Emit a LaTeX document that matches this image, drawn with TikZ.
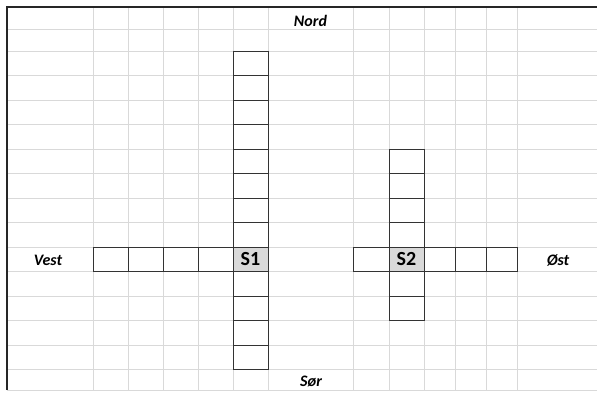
\documentclass[tikz,border=0pt]{standalone}
\usepackage{fontspec}
\setmainfont{Carlito}
\usetikzlibrary{backgrounds}

\definecolor{gridgray}{HTML}{D9D9D9}
\definecolor{cellgray}{HTML}{D9D9D9}
\definecolor{boxline}{HTML}{333333}

\tikzset{
  gridline/.style={gridgray, line width=0.8pt},
  box/.style={draw=boxline, line width=0.9pt},
  cell/.style={box, fill=cellgray, minimum width=35pt, minimum height=24.5pt, inner sep=0pt,
    font=\fontsize{20}{24}\selectfont\bfseries},
  compass/.style={anchor=base, font=\fontsize{16}{18}\selectfont\bfseries\itshape}
}

\begin{document}
\begin{tikzpicture}[x=1pt,y=-1pt]
\useasboundingbox (0,0) rectangle (597,392);

% sheet grid
\foreach \x in {93,128,163,198,233,268,353,389,424,455,486,517}
\draw[gridline] (\x,7) -- (\x,390);
\foreach \y in {29,51,75.5,100,124.5,149,173.5,198,222.5,247,271.5,296,320.5,345,369.5,390}
\draw[gridline] (7,\y) -- (597,\y);
\draw[line width=1.2pt, black!85] (7,390) -- (7,7) -- (597,7);

% S1: column and row
\foreach \y in {51,75.5,100,124.5,149,173.5,198,222.5,271.5,296,320.5,345}
\draw[box] (233,\y) rectangle ++(35,24.5);
\foreach \x in {93,128,163,198}
\draw[box] (\x,247) rectangle ++(35,24.5);
\node[cell] (s1) at (250.5,259.25) {S1};

% S2: column and row
\foreach \y in {149,173.5,198,222.5,271.5,296}
\draw[box] (389,\y) rectangle ++(35,24.5);
\draw[box] (353,247) rectangle (389,271.5);
\foreach \x in {424,455,486}
\draw[box] (\x,247) rectangle ++(31,24.5);
\node[cell] (s2) at (406.5,259.25) {S2};

% directions
\node[compass] (nord) at (310.5,26) {Nord};
\node[compass] (sor) at (311,386) {Sør};
\node[compass] (vest) at (48,265) {Vest};
\node[compass] (ost) at (558,265) {Øst};

\end{tikzpicture}
\end{document}
